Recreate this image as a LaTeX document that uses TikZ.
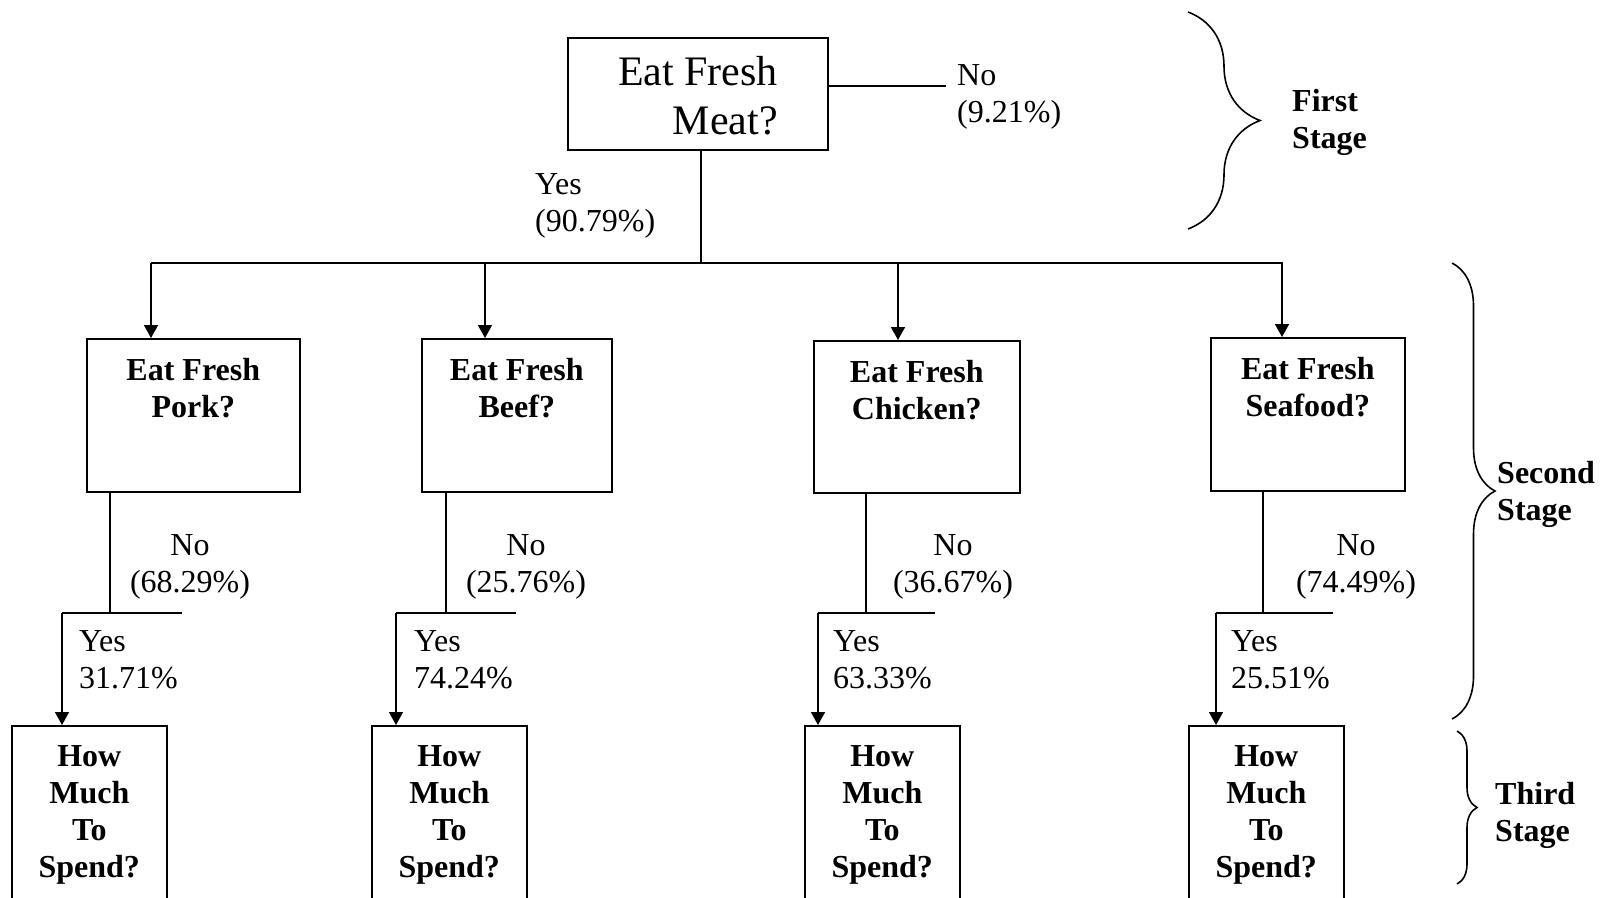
\documentclass[tikz,border=0pt]{standalone}
\usepackage{fontspec}
\setmainfont{Liberation Serif}
\usetikzlibrary{arrows.meta,decorations.pathreplacing}
\tikzset{
  qbox/.style={draw, line width=1.6pt, anchor=north west, inner sep=0pt},
  qtext/.style={font=\fontsize{32}{37}\selectfont\bfseries, align=center},
  lab/.style={font=\fontsize{32}{37}\selectfont, align=left, anchor=west, inner sep=0pt, yshift=-4pt},
  nolab/.style={font=\fontsize{32}{37}\selectfont, align=center, inner sep=0pt, yshift=-4pt},
  stagelab/.style={font=\fontsize{32}{37}\selectfont\bfseries, align=left, anchor=west, inner sep=0pt, yshift=-4pt},
  conn/.style={line width=1.6pt},
  arr/.style={conn, -{Triangle[width=14pt,length=13pt]}},
  stagebrace/.style={decorate, decoration={brace, amplitude=#1}, line width=1.6pt},
}
\begin{document}
\begin{tikzpicture}[x=1pt,y=-1pt]
  \clip (0,0) rectangle (1603,897);
  % first stage
  \node[qbox, minimum width=260pt, minimum height=112pt] (meat) at (567,37) {};
  \node[font=\fontsize{42}{49}\selectfont, align=right] (meatq) at (698,96) {Eat Fresh\\Meat?};
  \coordinate (noend) at (946,86);
  \draw[conn] (meat.east |- noend) -- (noend);
  \node[lab] (nomeat) at (957,93) {No\\(9.21\%)};
  \node[lab] (yesmeat) at (535,202) {Yes\\(90.79\%)};
  \coordinate (barL) at (151,263); \coordinate (barR) at (1283,263);
  \coordinate (stem) at (701,263);
  \draw[conn] (stem |- meat.south) -- (stem);
  \draw[conn] (barL) -- (barR);
  % second stage
  \node[qbox, minimum width=213pt, minimum height=153pt] (pork) at (86,338) {};
  \node[qbox, minimum width=190pt, minimum height=153pt] (beef) at (421,338) {};
  \node[qbox, minimum width=206pt, minimum height=152pt] (chicken) at (813,340) {};
  \node[qbox, minimum width=194pt, minimum height=153pt] (seafood) at (1210,337) {};
  \node[qtext] (porkq) at ([yshift=-50pt]pork.north) {Eat Fresh\\Pork?};
  \node[qtext] (beefq) at ([yshift=-50pt]beef.north) {Eat Fresh\\Beef?};
  \node[qtext] (chickenq) at ([yshift=-50pt]chicken.north) {Eat Fresh\\Chicken?};
  \node[qtext] (seafoodq) at ([yshift=-50pt]seafood.north) {Eat Fresh\\Seafood?};
  % third stage
  \node[qbox, minimum width=155pt, minimum height=200pt] (spendpork) at (11,725) {};
  \node[qbox, minimum width=155pt, minimum height=200pt] (spendbeef) at (371,725) {};
  \node[qbox, minimum width=155pt, minimum height=200pt] (spendchicken) at (804,725) {};
  \node[qbox, minimum width=155pt, minimum height=200pt] (spendseafood) at (1188,725) {};
  \foreach \n in {pork,beef,chicken,seafood}
    \node[qtext] (\n spendq) at ([yshift=-90pt]spend\n.north) {How\\Much\\To\\Spend?};
  % branches
  \foreach \n/\t/\s/\l/\r/\c/\y/\p/\q in {pork/151/110/62/182/190/79/68.29/31.71,
      beef/485/446/396/516/526/414/25.76/74.24,
      chicken/898/866/818/935/953/833/36.67/63.33,
      seafood/1282/1263/1216/1333/1356/1231/74.49/25.51}{
    \coordinate (\n top) at (\t,263);
    \draw[arr] (\n top) -- (\n top |- \n.north);
    \coordinate (\n split) at (\s,613);
    \coordinate (\n yes) at (\l,613);
    \coordinate (\n noend) at (\r,613);
    \draw[conn] (\n split |- \n.south) -- (\n split);
    \draw[conn] (\n yes) -- (\n noend);
    \draw[arr] (\n yes) -- (\n yes |- spend\n.north);
    \node[nolab] (\n no) at (\c,563) {No\\(\p\%)};
    \node[lab] (\n yeslab) at (\y,656) {Yes\\\q\%};
  }
  % stages
  \coordinate (s1a) at (1188,12); \coordinate (s1b) at (1188,229);
  \coordinate (s2a) at (1452,263); \coordinate (s2b) at (1452,719);
  \coordinate (s3a) at (1457,731); \coordinate (s3b) at (1457,884);
  \draw[stagebrace=72pt] (s1a) -- (s1b);
  \draw[stagebrace=43pt] (s2a) -- (s2b);
  \draw[stagebrace=20pt] (s3a) -- (s3b);
  \node[stagelab] (first) at (1292,118) {First\\Stage};
  \node[stagelab] (second) at (1497,490) {Second\\Stage};
  \node[stagelab] (third) at (1495,811) {Third\\Stage};
\end{tikzpicture}
\end{document}
